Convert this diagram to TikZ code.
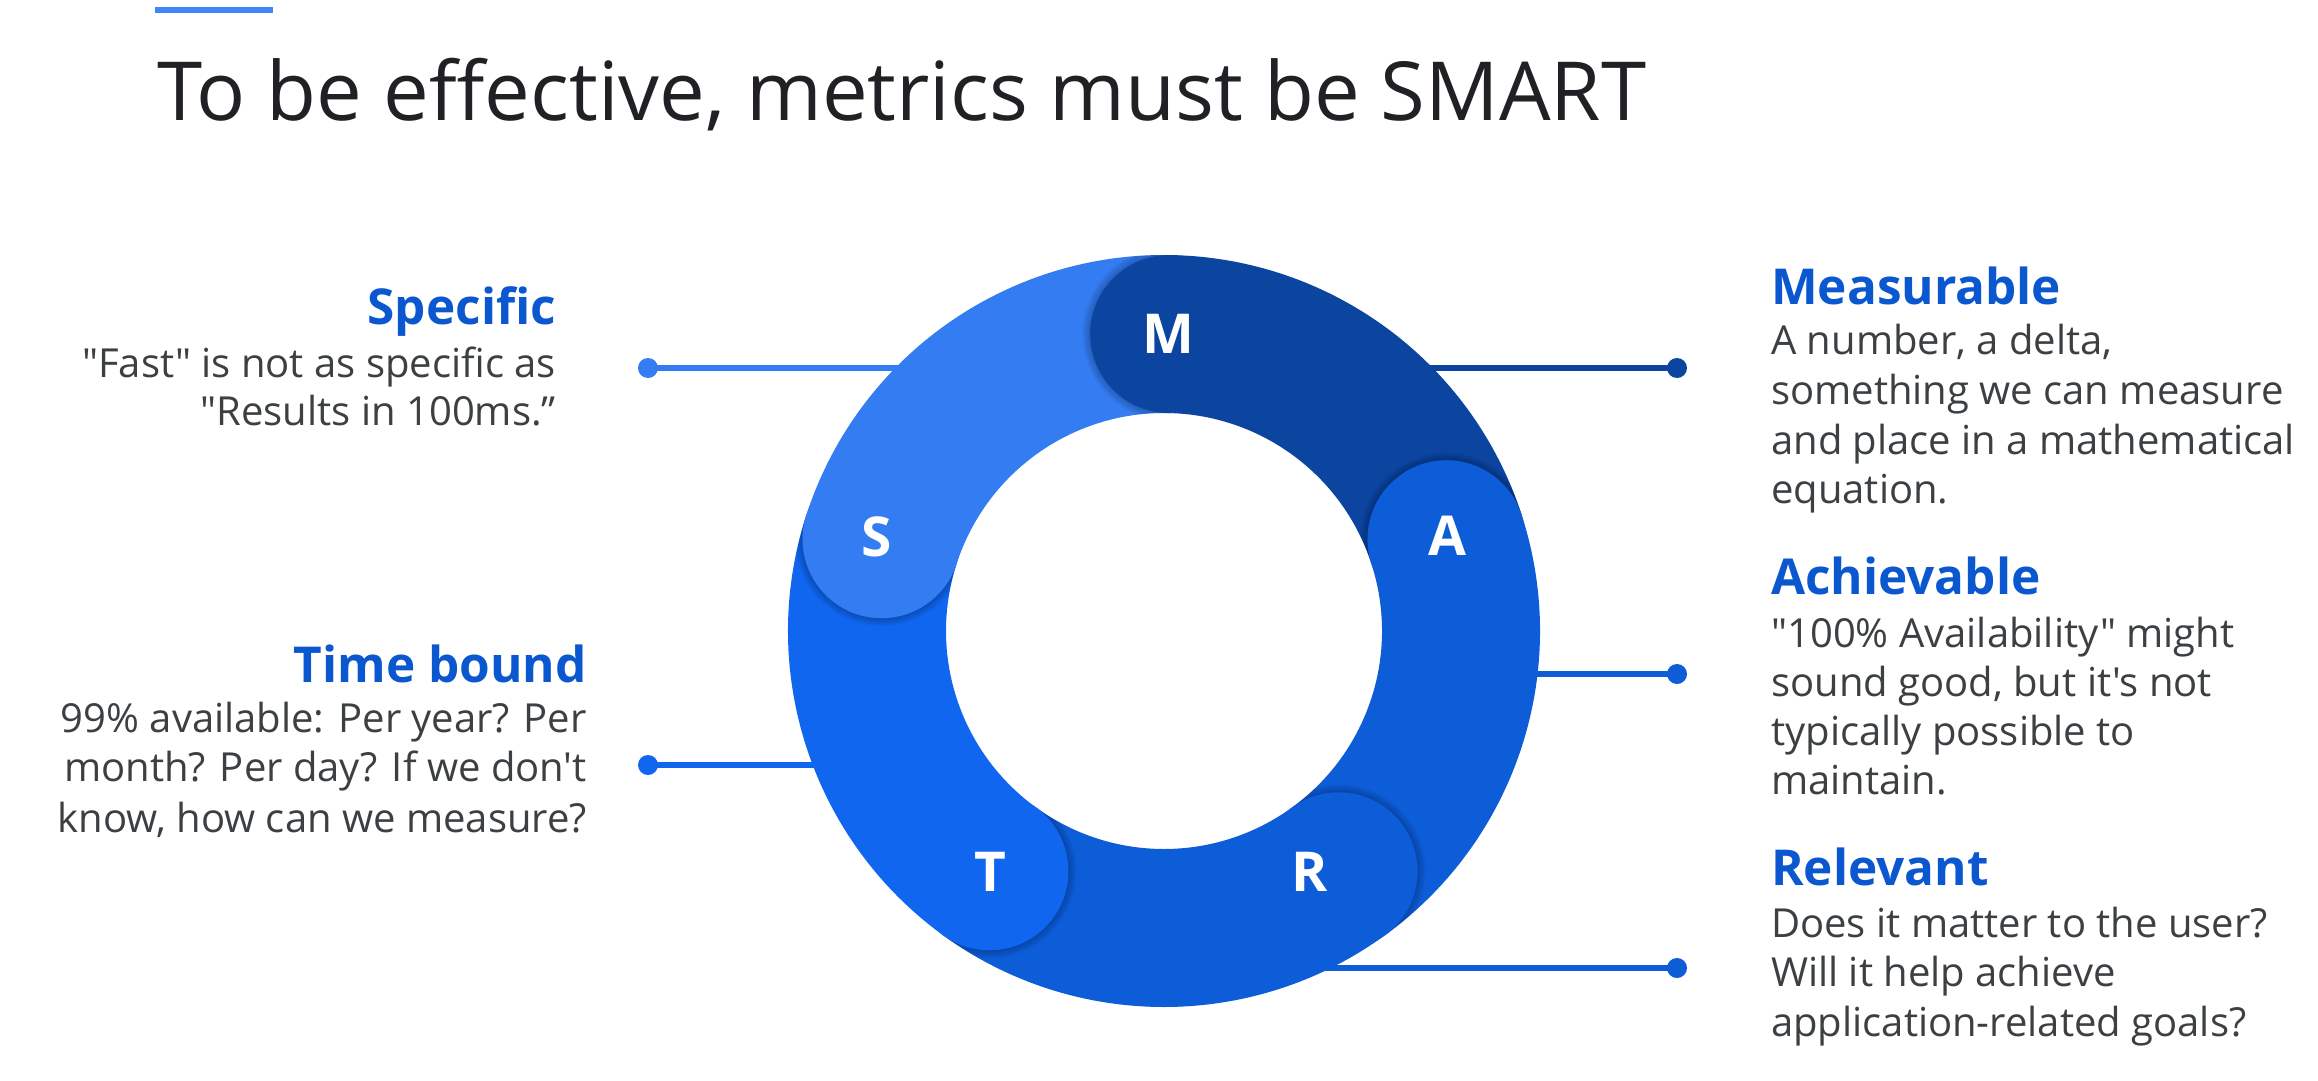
\documentclass[tikz,border=0pt]{standalone}
\usepackage{fontspec}
\newfontfamily\gs{Open Sans}
\definecolor{cM}{HTML}{0B45A0}
\definecolor{cA}{HTML}{0D5CD8}
\definecolor{cR}{HTML}{0D5CD8}
\definecolor{cT}{HTML}{1066EE}
\definecolor{cS}{HTML}{337CF1}
\definecolor{headblue}{HTML}{0B57D0}
\definecolor{bodygray}{HTML}{3C4043}
\definecolor{titlec}{HTML}{202124}
\definecolor{barc}{HTML}{4285F4}
\newcommand\ringseg[3]{\fill[#3] (#1:376) arc[start angle=#1,end angle=#2,radius=376] -- (#2:218) arc[start angle=#2,end angle=#1,radius=218] -- cycle;}
\newcommand\ringcap[2]{%
  \begin{scope}
    \clip (#1:600) -- (#1+90:600) -- (#1+180:600) -- cycle;
    \clip (376,0) arc[start angle=0,end angle=360,radius=376] -- (218,0) arc[start angle=360,end angle=0,radius=218] -- cycle;
    \foreach \k in {1,...,6} \fill[black,opacity=0.035] (#1:297) circle[radius=79+\k*1.3];
  \end{scope}
  \fill[#2] (#1:297) circle[radius=79];}
\begin{document}
\begin{tikzpicture}[x=1pt,y=-1pt,
  enddot/.style={circle,fill=#1,minimum size=20pt,inner sep=0pt},
  conn/.style={draw=#1,line width=5.5pt},
  head/.style={inner sep=0pt,text=headblue,font=\gs\bfseries\fontsize{49.5}{58}\selectfont},
  body/.style={inner sep=0pt,text=bodygray,font=\gs\fontsize{40}{48}\selectfont},
  letter/.style={inner sep=0pt,text=white,font=\gs\bfseries\fontsize{55}{60}\selectfont}]
\useasboundingbox (0,0) rectangle (2318,1081);
\fill[white] (0,0) rectangle (2318,1081);
% top bar and title
\fill[barc] (155,7) rectangle (273,13);
\node[anchor=base west,inner sep=0pt,text=titlec,font=\gs\fontsize{81.5}{90}\selectfont] (title) at (157,120) {To be effective, metrics must be SMART};
% connectors (behind the ring)
\node[enddot=cS] (sdot) at (648,368) {};
\coordinate (send) at (1000,368);
\draw[conn=cS] (sdot.center) -- (send);
\node[enddot=cM] (mdot) at (1677,368) {};
\coordinate (mend) at (1300,368);
\draw[conn=cM] (mdot.center) -- (mend);
\node[enddot=cA] (adot) at (1677,674) {};
\coordinate (aend) at (1450,674);
\draw[conn=cA] (adot.center) -- (aend);
\node[enddot=cT] (tdot) at (648,765) {};
\coordinate (tend) at (900,765);
\draw[conn=cT] (tdot.center) -- (tend);
\node[enddot=cR] (rdot) at (1677,968) {};
\coordinate (rend) at (1250,968);
\draw[conn=cR] (rdot.center) -- (rend);
% ring
\begin{scope}[shift={(1164,631)},yscale=-1]
  \ringseg{89}{18}{cM}
  \ringseg{18}{-54}{cA}
  \ringseg{-54}{-126}{cR}
  \ringseg{-126}{-198}{cT}
  \ringseg{162}{89}{cS}
  \ringcap{89}{cM}
  \ringcap{18}{cA}
  \ringcap{-54}{cR}
  \ringcap{-126}{cT}
  \ringcap{162}{cS}
\end{scope}
\node[letter] (lM) at (1168,334) {M};
\node[letter] (lA) at (1447,536) {A};
\node[letter] (lR) at (1310,872) {R};
\node[letter] (lT) at (990,872) {T};
\node[letter] (lS) at (877,537) {S};
% left texts
\node[head,anchor=base east] (hS) at (556,324) {Specific};
\node[body,anchor=base east] (bS1) at (556,377) {"Fast" is not as specific as};
\node[body,anchor=base east] (bS2) at (556,425) {"Results in 100ms.”};
\node[head,anchor=base east] (hT) at (587,682) {Time bound};
\node[body,anchor=base east] (bT1) at (587,732) {99\% available: Per year? Per};
\node[body,anchor=base east] (bT2) at (587,781) {month? Per day? If we don't};
\node[body,anchor=base east] (bT3) at (587,832) {know, how can we measure?};
% right texts
\node[head,anchor=base west] (hM) at (1771,304) {Measurable};
\node[body,anchor=base west] (bM1) at (1771,354) {A number, a delta,};
\node[body,anchor=base west] (bM2) at (1771,404) {something we can measure};
\node[body,anchor=base west] (bM3) at (1771,454) {and place in a mathematical};
\node[body,anchor=base west] (bM4) at (1771,503) {equation.};
\node[head,anchor=base west] (hA) at (1771,594) {Achievable};
\node[body,anchor=base west] (bA1) at (1771,647) {"100\% Availability" might};
\node[body,anchor=base west] (bA2) at (1771,696) {sound good, but it's not};
\node[body,anchor=base west] (bA3) at (1771,745) {typically possible to};
\node[body,anchor=base west] (bA4) at (1771,794) {maintain.};
\node[head,anchor=base west] (hR) at (1771,885) {Relevant};
\node[body,anchor=base west] (bR1) at (1771,937) {Does it matter to the user?};
\node[body,anchor=base west] (bR2) at (1771,986) {Will it help achieve};
\node[body,anchor=base west] (bR3) at (1771,1036) {application-related goals?};
\end{tikzpicture}
\end{document}
